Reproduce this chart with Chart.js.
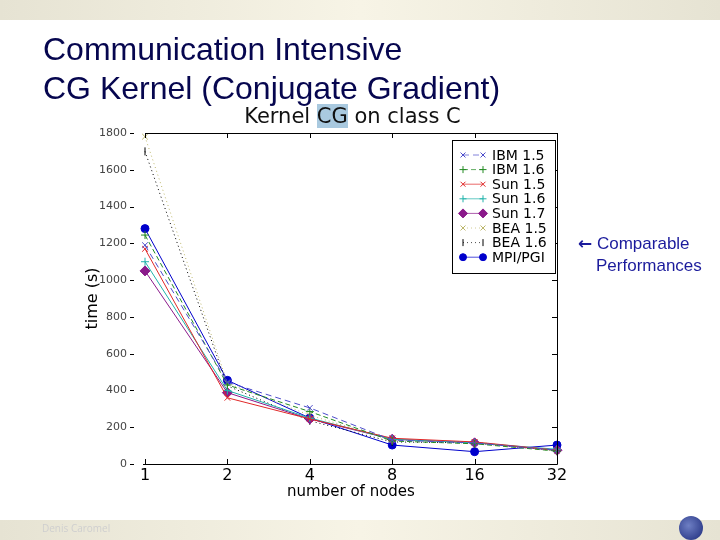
<!DOCTYPE html>
<html>
<head>
<meta charset="utf-8">
<script src="https://cdn.jsdelivr.net/npm/chart.js@4"></script>
<style>
  body { margin: 0; background: #fff; }
  #slide { position: relative; width: 720px; height: 540px; overflow: hidden; background: #fff; }
  .band { position: absolute; left: 0; width: 720px; height: 20px;
    background: linear-gradient(to right, #e6e3d3, #f7f4e6 50%, #e6e3d3); }
  #head { position: absolute; left: 43px; top: 30px; font: 32px "Liberation Sans", Arial, sans-serif;
    color: #06064f; line-height: 39px; }
  #ctitle { position: absolute; left: 0; width: 705px; top: 104px; text-align: center;
    font: 21px "DejaVu Sans", sans-serif; color: #111; }
  #ctitle span { background: #a9c9df; }
  #note { position: absolute; left: 578px; top: 233px; font: 17px "Liberation Sans", Arial, sans-serif;
    color: #1b1b9c; line-height: 22px; }
  #note .arr { font: bold 17px "DejaVu Sans", sans-serif; }
  #note .l2 { padding-left: 18px; }
  #author { position: absolute; left: 42px; top: 521px; font: 10px "Open Sans", sans-serif; color: #cfcfcf; }
  #logo { position: absolute; left: 679px; top: 516px; width: 24px; height: 24px; border-radius: 50%;
    background: radial-gradient(circle at 40% 40%, #6e7fc4, #1c2a7a); }
  canvas { position: absolute; left: 0; top: 0; }
</style>
</head>
<body>
<div id="slide">
  <div class="band" style="top:0"></div>
  <div class="band" style="top:520px"></div>
  <canvas id="myChart" width="720" height="540"></canvas>
  <div id="head">Communication Intensive<br>CG Kernel (Conjugate Gradient)</div>
  <div id="ctitle">Kernel <span>CG</span> on class C</div>
  <div id="note"><span class="arr">←</span> Comparable<br><span class="l2">Performances</span></div>
  <div id="author">Denis Caromel</div>
  <div id="logo"></div>
</div>
<script>
const nodes = ['1', '2', '4', '8', '16', '32'];
const yTicks = [0, 200, 400, 600, 800, 1000, 1200, 1400, 1600, 1800];

const ibm15 = [1190, 445, 305, 130, 115, 75];
const ibm16 = [1245, 430, 285, 125, 110, 70];
const sun15 = [1170, 360, 245, 140, 120, 75];
const sun16 = [1100, 400, 250, 135, 115, 80];
const sun17 = [1050, 388, 245, 135, 115, 75];
const bea15 = [1780, 440, 265, 130, 120, 70];
const bea16 = [1700, 425, 235, 120, 115, 72];
const mpi   = [1280, 455, 250, 103, 67, 103];

function ds(label, data, color, style, opts) {
  return Object.assign({
    label: label, data: data, borderColor: color, backgroundColor: color,
    pointStyle: style, pointRadius: 4, pointBorderWidth: 1, borderWidth: 1,
    tension: 0, fill: false
  }, opts || {});
}

const datasets = [
  ds('IBM 1.5', ibm15, '#4d4dcc', 'crossRot', { borderDash: [6, 4] }),
  ds('IBM 1.6', ibm16, '#228b22', 'cross', { borderDash: [5, 3] }),
  ds('Sun 1.5', sun15, '#e02828', 'crossRot'),
  ds('Sun 1.6', sun16, '#20b2aa', 'cross'),
  ds('Sun 1.7', sun17, '#8b1a8b', 'rectRot', { pointRadius: 5 }),
  ds('BEA 1.5', bea15, '#bdb76b', 'crossRot', { borderDash: [1, 3] }),
  ds('BEA 1.6', bea16, '#000000', 'line', { borderDash: [1, 3], pointRotation: 90 }),
  ds('MPI/PGI', mpi, '#0000cc', 'circle', { pointRadius: 4 })
];

// point marker in the dataset's colour
function marker(c, d, px, py, r) {
  c.save();
  c.strokeStyle = d.borderColor;
  c.fillStyle = d.backgroundColor;
  c.setLineDash([]);
  Chart.helpers.drawPoint(c, {
    pointStyle: d.pointStyle, radius: r, rotation: d.pointRotation || 0, borderWidth: 1
  }, px, py);
  c.restore();
}

// matplotlib-like frame, ticks and legend box
const frame = {
  id: 'frame',
  afterDatasetsDraw(chart) {
    const c = chart.ctx, a = chart.chartArea;
    const x = chart.scales.x, y = chart.scales.y;
    c.save();
    c.strokeStyle = '#000';
    c.lineWidth = 1;
    c.beginPath();
    c.moveTo(a.left, a.top + 0.5); c.lineTo(a.right + 0.5, a.top + 0.5);
    c.lineTo(a.right + 0.5, a.bottom + 0.5); c.lineTo(a.left - 2, a.bottom + 0.5);
    nodes.forEach((n, i) => {
      const px = Math.round(x.getPixelForValue(i)) + 0.5;
      c.moveTo(px, a.bottom); c.lineTo(px, a.bottom - 5);
      c.moveTo(px, a.top); c.lineTo(px, a.top + 5);
    });
    yTicks.forEach(v => {
      const py = Math.round(y.getPixelForValue(v)) + 0.5;
      c.moveTo(a.right, py); c.lineTo(a.right - 5, py);
      c.moveTo(a.left - 15, py); c.lineTo(a.left - 11, py);
    });
    c.stroke();

    // legend
    const bx = 452, by = 140, bw = 103, bh = 133;
    c.fillStyle = '#fff';
    c.fillRect(bx, by, bw, bh);
    c.strokeRect(bx + 0.5, by + 0.5, bw, bh);
    c.font = '14px "DejaVu Sans", sans-serif';
    c.textBaseline = 'middle';
    chart.data.datasets.forEach((d, i) => {
      const ly = by + 15 + i * 14.6;
      c.save();
      c.strokeStyle = d.borderColor;
      c.globalAlpha = 0.7;
      c.lineWidth = 1;
      c.setLineDash(d.borderDash || []);
      c.beginPath(); c.moveTo(463, ly); c.lineTo(483, ly); c.stroke();
      c.restore();
      marker(c, d, 463, ly, d.pointRadius - 0.5);
      marker(c, d, 483, ly, d.pointRadius - 0.5);
      c.fillStyle = '#000';
      c.fillText(d.label, 492, ly + 1);
    });
    c.restore();
  }
};

new Chart(document.getElementById('myChart'), {
  type: 'line',
  data: { labels: nodes, datasets: datasets },
  options: {
    responsive: false,
    animation: false,
    layout: { padding: { left: 80, top: 133, right: 163, bottom: 36 } },
    plugins: { legend: { display: false }, tooltip: { enabled: false } },
    scales: {
      x: {
        offset: false,
        grid: { display: false, drawTicks: false },
        border: { display: false },
        ticks: { padding: 2, color: '#000', font: { family: 'DejaVu Sans', size: 16 } },
        title: { display: true, text: 'number of nodes', color: '#000',
                 font: { family: 'DejaVu Sans', size: 15 }, padding: { top: 0, bottom: 3 } },
        afterFit(s) { s.height = 40; }
      },
      y: {
        min: 0, max: 1800,
        grid: { display: false, drawTicks: false },
        border: { display: false },
        afterBuildTicks(s) { s.ticks = yTicks.map(v => ({ value: v })); },
        ticks: { padding: 18, color: '#444', font: { family: 'DejaVu Sans', size: 11 },
                 callback: v => String(v) },
        title: { display: true, text: 'time (s)', color: '#000',
                 font: { family: 'DejaVu Sans', size: 16 }, padding: { top: 3, bottom: 4 } },
        afterFit(s) { s.width = 65; }
      }
    }
  },
  plugins: [frame]
});
</script>
</body>
</html>
